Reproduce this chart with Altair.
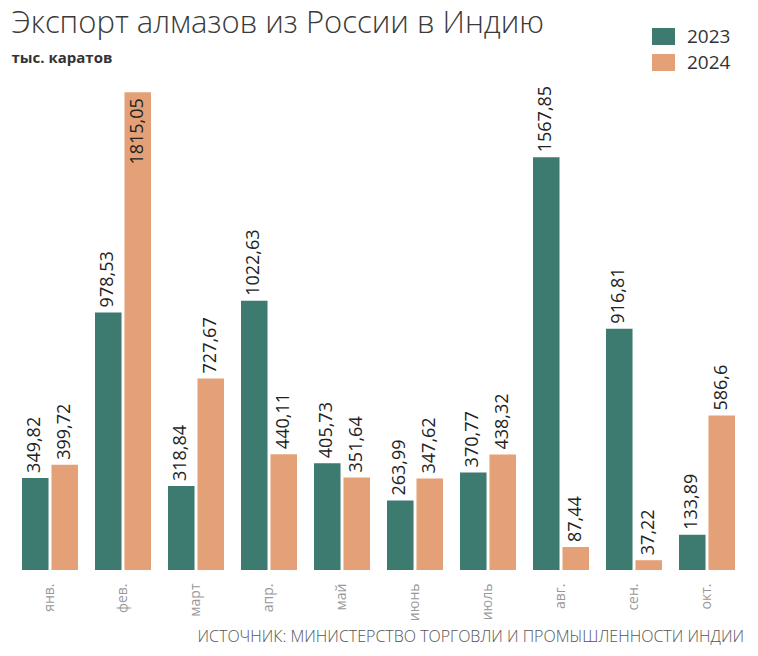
import altair as alt
import pandas as pd

months = ["янв.", "фев.", "март", "апр.", "май", "июнь", "июль", "авг.", "сен.", "окт."]
years = ["2023", "2024"]
v2023 = [349.82, 978.53, 318.84, 1022.63, 405.73, 263.99, 370.77, 1567.85, 916.81, 133.89]
v2024 = [399.72, 1815.05, 727.67, 440.11, 351.64, 347.62, 438.32, 87.44, 37.22, 586.6]
colors = ["#3d7a70", "#e4a178"]
source = "ИСТОЧНИК: МИНИСТЕРСТВО ТОРГОВЛИ И ПРОМЫШЛЕННОСТИ ИНДИИ"

rows = []
for m, a, b in zip(months, v2023, v2024):
    rows.append({"month": m, "year": years[0], "value": a})
    rows.append({"month": m, "year": years[1], "value": b})
df = pd.DataFrame(rows)
df["label"] = df["value"].map(lambda v: str(v).replace(".", ","))

FONT = "Open Sans"

x = alt.X(
    "month:N",
    sort=months,
    scale=alt.Scale(paddingInner=0.233, paddingOuter=0.1165),
    axis=alt.Axis(
        title=source,
        titleAnchor="end",
        titleFont=FONT,
        titleFontSize=16,
        titleFontWeight=300,
        titleColor="#555",
        titlePadding=8,
        labelAngle=270,
        labelFont=FONT,
        labelFontSize=14,
        labelColor="#999",
        labelPadding=13,
        domain=False,
        ticks=False,
    ),
)
xo = alt.XOffset("year:N", sort=years, scale=alt.Scale(paddingInner=0.1))
y = alt.Y("value:Q", scale=alt.Scale(domain=[0, 1850], nice=False), axis=None)

base = alt.Chart(df)

bars = base.mark_bar().encode(
    x=x,
    xOffset=xo,
    y=y,
    color=alt.Color(
        "year:N",
        scale=alt.Scale(domain=years, range=colors),
        legend=alt.Legend(
            title=None,
            orient="none",
            legendX=640.5,
            legendY=-56,
            symbolType="M-1.35,-1H1.35V1H-1.35Z",
            symbolSize=289,
            symbolStrokeWidth=0,
            labelFont=FONT,
            labelFontSize=19,
            labelColor="#333",
            labelOffset=14,
            rowPadding=6,
            padding=0,
        ),
    ),
)

above = base.transform_filter("datum.value < 1700").mark_text(
    angle=270, align="left", baseline="middle", dx=5, fontSize=18, font=FONT, color="#222"
).encode(x=x, xOffset=xo, y=y, text="label:N")

inside = base.transform_filter("datum.value >= 1700").mark_text(
    angle=270, align="right", baseline="middle", dx=-6, fontSize=18, font=FONT, color="#222"
).encode(x=x, xOffset=xo, y=y, text="label:N")

chart = (
    alt.layer(bars, above, inside)
    .properties(
        width=730,
        height=487,
        padding={"left": 3.5, "top": 0, "right": 0, "bottom": 3},
        title=alt.Title(
            text="Экспорт алмазов из России в Индию",
            subtitle="тыс. каратов",
            anchor="start",
            font=FONT,
            fontSize=31,
            fontWeight=300,
            color="#3a3a3a",
            subtitleFont=FONT,
            subtitleFontSize=15,
            subtitleFontWeight="bold",
            subtitleColor="#333",
            subtitlePadding=11,
            offset=-40,
            dx=-2,
        ),
    )
    .configure_view(stroke=None)
)

chart.save("out.html", embed_options={"renderer": "svg", "actions": False})
